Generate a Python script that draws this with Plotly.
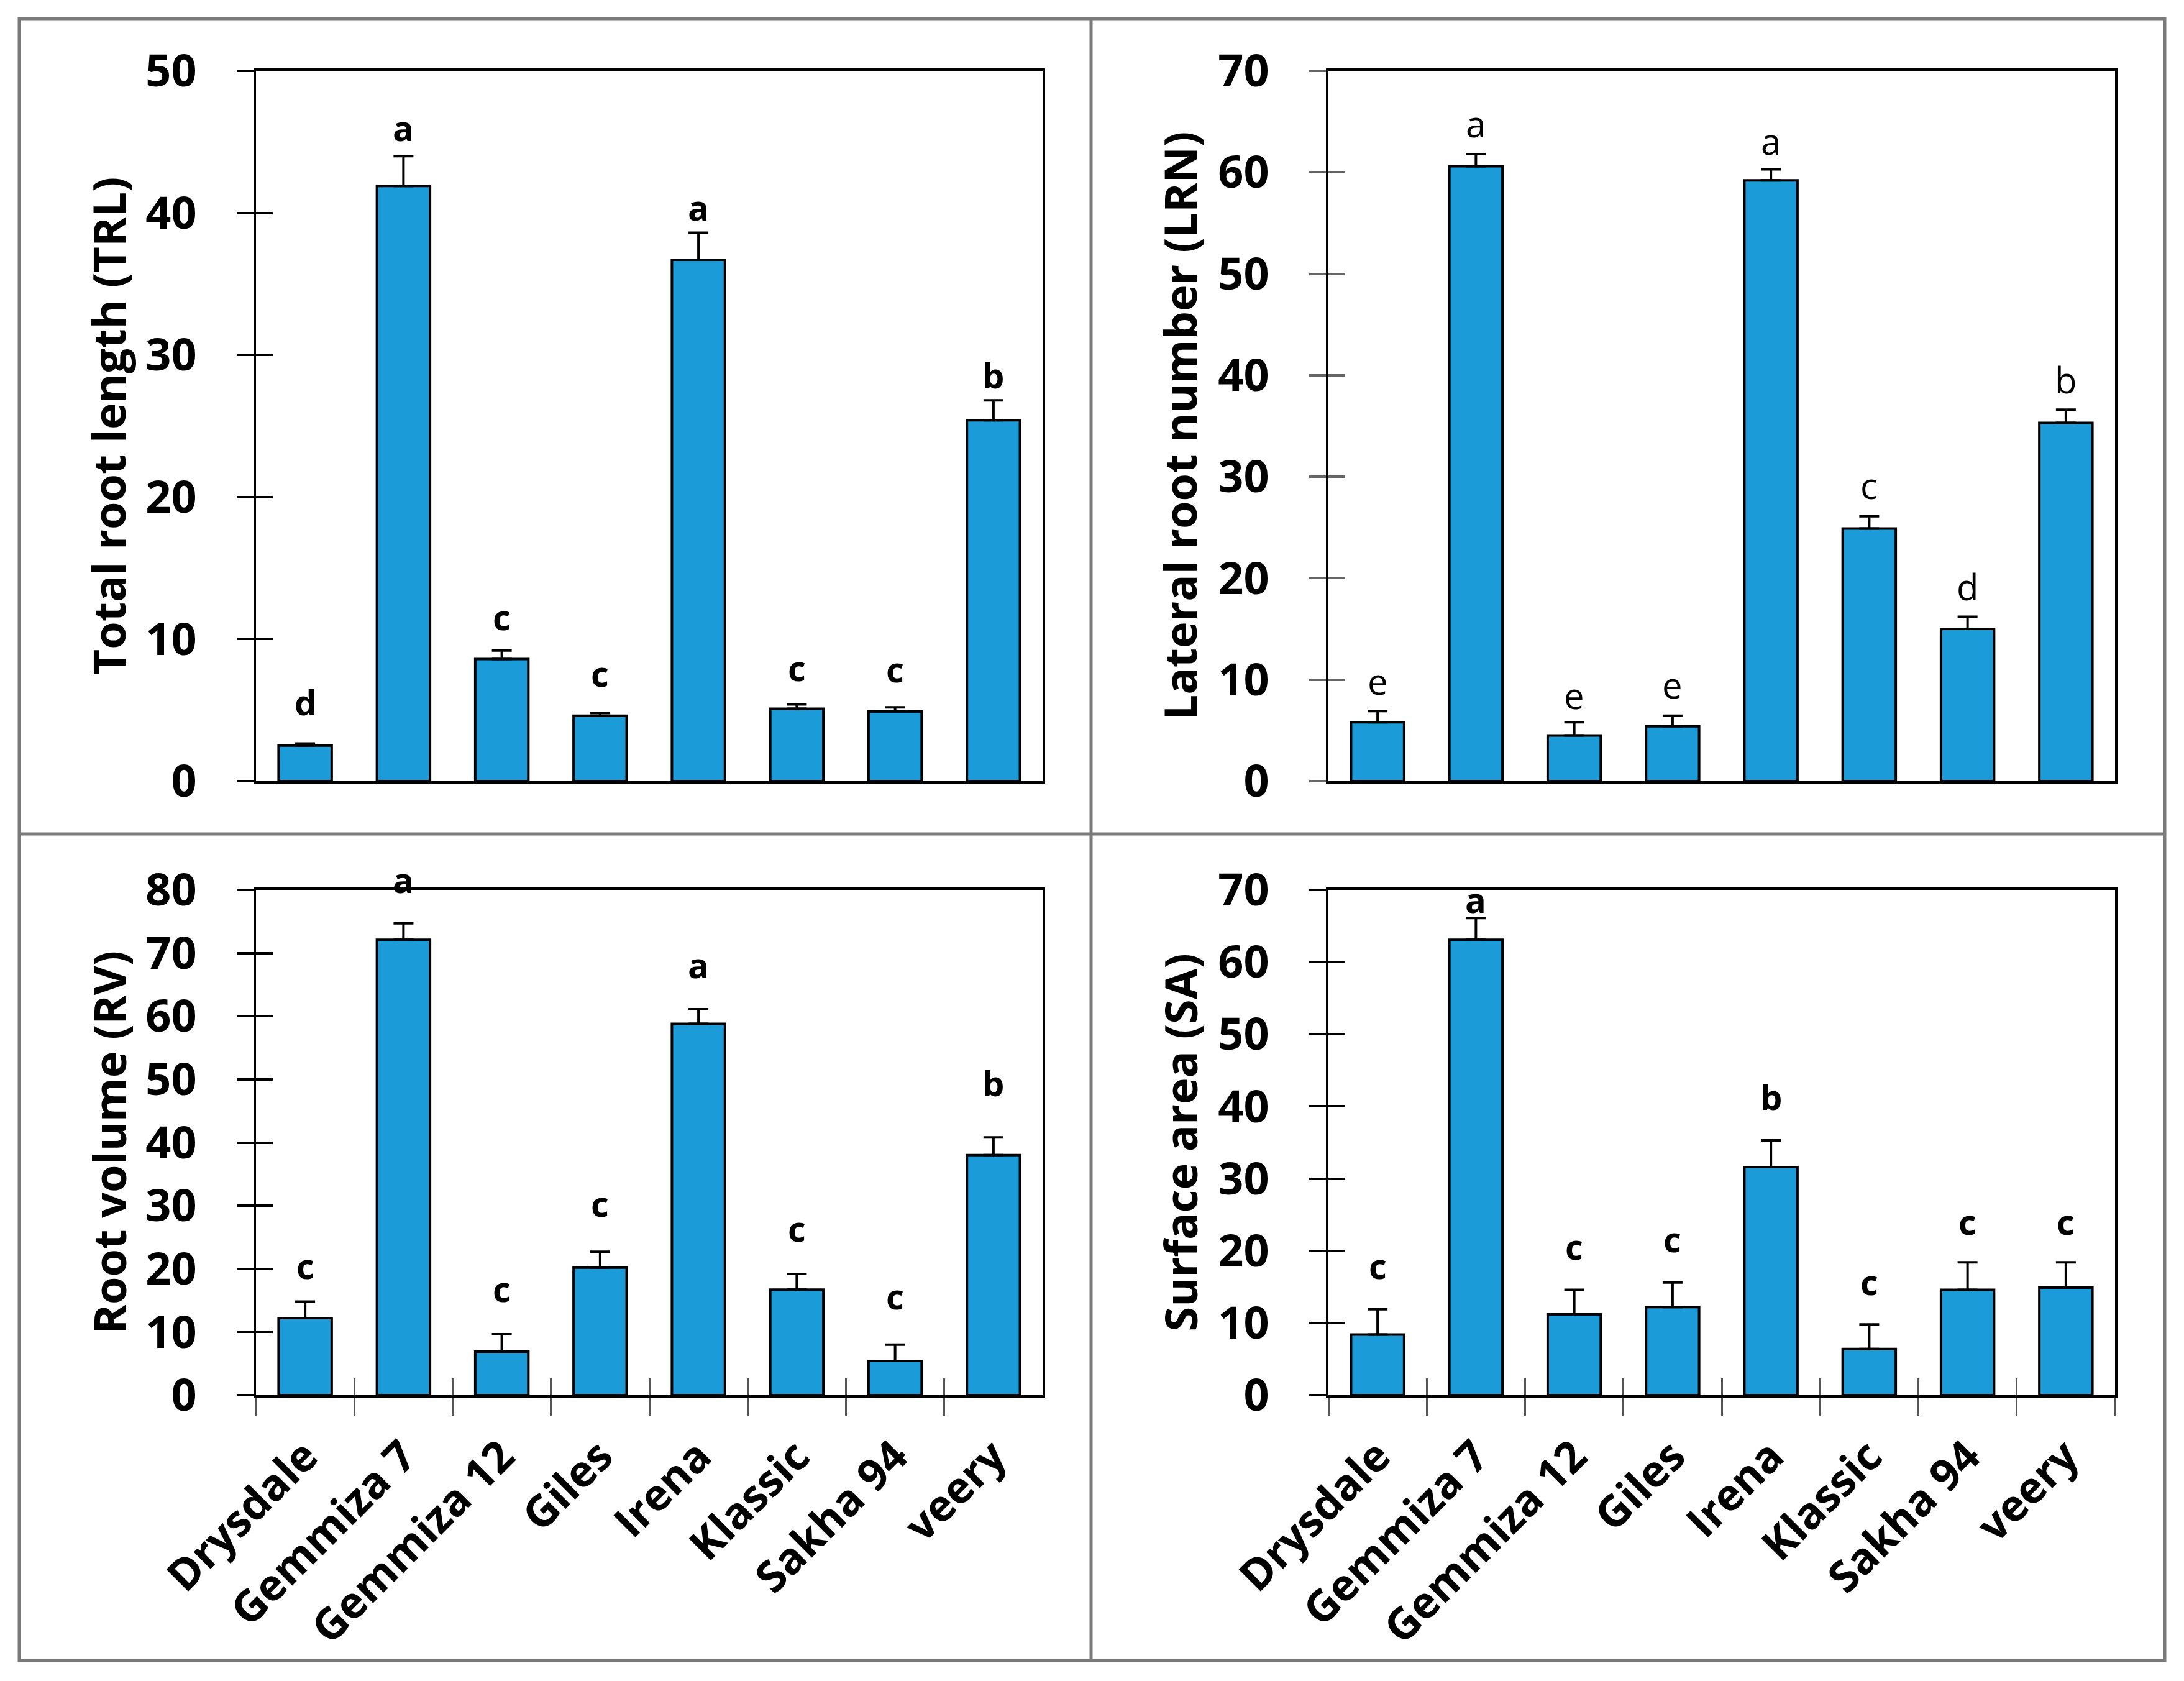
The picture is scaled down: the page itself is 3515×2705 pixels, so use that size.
import plotly.graph_objects as go

# ---------------- data ----------------
categories = ["Drysdale", "Gemmiza 7", "Gemmiza 12", "Giles", "Irena", "Klassic", "Sakha 94", "veery"]

trl_mean = [2.5, 41.9, 8.6, 4.6, 36.7, 5.1, 4.9, 25.4]
trl_err = [0.15, 2.1, 0.6, 0.2, 1.9, 0.3, 0.3, 1.4]
trl_letters = ["d", "a", "c", "c", "a", "c", "c", "b"]
trl_letter_y = [5.6, 46.0, 11.6, 7.6, 40.4, 8.0, 7.9, 28.6]

lrn_mean = [5.8, 60.6, 4.5, 5.4, 59.2, 24.9, 15.0, 35.3]
lrn_err = [1.1, 1.2, 1.3, 1.05, 1.1, 1.2, 1.2, 1.3]
lrn_letters = ["e", "a", "e", "e", "a", "c", "d", "b"]
lrn_letter_y = [9.9, 64.8, 8.5, 9.5, 63.1, 29.2, 19.2, 39.6]

rv_mean = [12.2, 72.1, 6.9, 20.2, 58.8, 16.7, 5.4, 38.0]
rv_err = [2.6, 2.6, 2.75, 2.5, 2.3, 2.5, 2.6, 2.8]
rv_letters = ["c", "a", "c", "c", "a", "c", "c", "b"]
rv_letter_y = [20.6, 81.7, 16.9, 30.4, 68.2, 26.5, 15.7, 49.5]

sa_mean = [8.4, 63.1, 11.2, 12.2, 31.6, 6.4, 14.6, 14.9]
sa_err = [3.5, 3.0, 3.4, 3.4, 3.7, 3.4, 3.8, 3.5]
sa_letters = ["c", "a", "c", "c", "b", "c", "c", "c"]
sa_letter_y = [18.0, 68.7, 20.7, 21.7, 41.4, 15.75, 24.1, 24.1]

titles = ["Total root length (TRL)", "Lateral root number (LRN)",
          "Root volume (RV)", "Surface area (SA)"]
y_max = [50, 70, 80, 70]

# ---------------- layout geometry (pixels) ----------------
W, H = 3515, 2705
OFF = 8  # page body margin compensation
BAR_COLOR = "#1b9bd7"
FONT = "Open Sans"


def px_x(v):
    return (v - OFF) / W


def px_y(v):
    return 1 - (v - OFF) / H


col_x = [(412, 1678), (2138, 3404)]
row_y = [(114, 1257), (1432, 2245)]
title_x = [174, 1898]

panels = [
    dict(mean=trl_mean, err=trl_err, let=trl_letters, ly=trl_letter_y, col=0, row=0, bold=True, tickc="black"),
    dict(mean=lrn_mean, err=lrn_err, let=lrn_letters, ly=lrn_letter_y, col=1, row=0, bold=False, tickc="#666666"),
    dict(mean=rv_mean, err=rv_err, let=rv_letters, ly=rv_letter_y, col=0, row=1, bold=True, tickc="black"),
    dict(mean=sa_mean, err=sa_err, let=sa_letters, ly=sa_letter_y, col=1, row=1, bold=True, tickc="black"),
]

fig = go.Figure()
layout = dict(
    template="none",
    width=W, height=H,
    margin=dict(l=0, r=0, t=0, b=0, pad=0, autoexpand=False),
    paper_bgcolor="white", plot_bgcolor="white",
    showlegend=False, bargap=0.46,
    font=dict(family=FONT, color="black"),
)
annotations = []
shapes = []

for i, p in enumerate(panels):
    n = i + 1
    xs = "" if n == 1 else str(n)
    xname, yname = "x" + xs, "y" + xs
    xd = [px_x(col_x[p["col"]][0]), px_x(col_x[p["col"]][1])]
    yd = [px_y(row_y[p["row"]][1]), px_y(row_y[p["row"]][0])]
    ymax = y_max[i]
    px_per_unit = (row_y[p["row"]][1] - row_y[p["row"]][0]) / ymax
    bottom = p["row"] == 1

    fig.add_trace(go.Bar(
        x=categories, y=p["mean"], xaxis=xname, yaxis=yname,
        marker=dict(color=BAR_COLOR, line=dict(color="black", width=4)),
        error_y=dict(type="data", array=p["err"], arrayminus=[0] * len(p["err"]),
                     symmetric=False, color="black", thickness=4, width=16),
    ))

    xa = dict(
        domain=xd, anchor=yname, type="category", automargin=False,
        categoryorder="array", categoryarray=categories,
        range=[-0.5, len(categories) - 0.5],
        showline=True, mirror=True, linecolor="black", linewidth=4,
        showgrid=False, zeroline=False,
    )
    if bottom:
        xa.update(ticks="outside", tickson="boundaries", ticklen=30, tickwidth=3,
                  tickcolor="#555555", showticklabels=True, tickangle=-45,
                  tickfont=dict(family=FONT, size=70, color="black", weight="bold"),
                  ticklabelstandoff=25)
    else:
        xa.update(ticks="", showticklabels=False)

    ya = dict(
        domain=yd, anchor=xname, range=[0, ymax], tick0=0, dtick=10, automargin=False,
        showline=True, mirror=True, linecolor="black", linewidth=4,
        showgrid=False, zeroline=False,
        ticks="outside", ticklen=27, tickwidth=4, tickcolor=p["tickc"],
        tickfont=dict(family=FONT, size=72, color="black", weight="bold"),
        ticklabelstandoff=50,
    )
    layout["xaxis" + xs] = xa
    layout["yaxis" + xs] = ya

    # inner half of the crossing y ticks
    oy = str(n + 4)
    layout["yaxis" + oy] = dict(
        overlaying=yname, anchor=xname, range=[0, ymax], tick0=0, dtick=10, automargin=False,
        showline=False, showgrid=False, zeroline=False, showticklabels=False,
        ticks="inside", ticklen=27, tickwidth=4, tickcolor=p["tickc"],
    )
    fig.add_trace(go.Scatter(x=[], y=[], xaxis=xname, yaxis="y" + oy, hoverinfo="skip"))

    if bottom:
        ox = str(n + 2)
        layout["xaxis" + ox] = dict(
            overlaying=xname, anchor=yname, type="linear", automargin=False,
            range=[-0.5, len(categories) - 0.5], tick0=-0.5, dtick=1,
            showline=False, showgrid=False, zeroline=False, showticklabels=False,
            ticks="inside", ticklen=27, tickwidth=3, tickcolor="#555555",
        )
        fig.add_trace(go.Scatter(x=[], y=[], xaxis="x" + ox, yaxis=yname, hoverinfo="skip"))

    # significance letters (letters above the axis range are pinned to the top and shifted)
    for c, t, yv in zip(categories, p["let"], p["ly"]):
        ya_pos = min(yv, ymax)
        annotations.append(dict(
            x=c, y=ya_pos, xref=xname, yref=yname, text=t, showarrow=False,
            xanchor="center", yanchor="middle", yshift=(yv - ya_pos) * px_per_unit,
            font=dict(family=FONT, size=56 if p["bold"] else 58, color="black",
                      weight="bold" if p["bold"] else "normal"),
        ))

    # axis title
    annotations.append(dict(
        x=px_x(title_x[p["col"]]), y=(yd[0] + yd[1]) / 2, xref="paper", yref="paper",
        text=titles[i], textangle=-90, showarrow=False,
        xanchor="center", yanchor="middle",
        font=dict(family=FONT, size=72, color="black", weight="bold"),
    ))

# outer frame and dividers
frame = dict(color="#7a7a7a", width=5)
shapes.append(dict(type="rect", xref="paper", yref="paper",
                   x0=px_x(31), x1=px_x(3484), y0=px_y(2672), y1=px_y(30), line=frame))
shapes.append(dict(type="line", xref="paper", yref="paper",
                   x0=px_x(1756), x1=px_x(1756), y0=px_y(2672), y1=px_y(30), line=frame))
shapes.append(dict(type="line", xref="paper", yref="paper",
                   x0=px_x(31), x1=px_x(3484), y0=px_y(1342), y1=px_y(1342), line=frame))

layout["annotations"] = annotations
layout["shapes"] = shapes
fig.update_layout(**layout)
fig.write_html("out.html")
